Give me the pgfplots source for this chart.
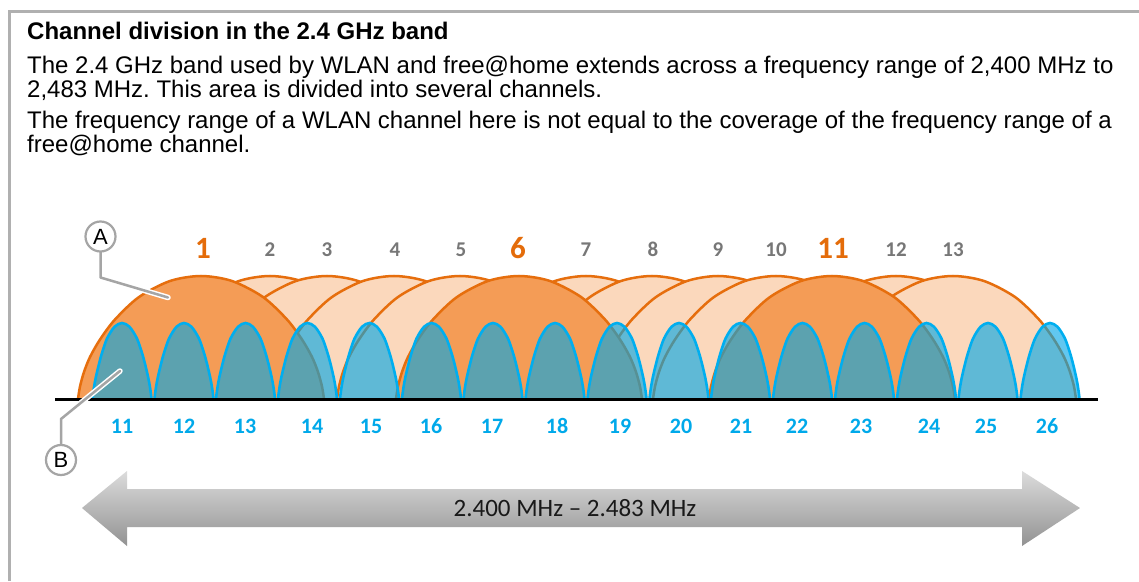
\documentclass[border=0pt]{standalone}
\usepackage{fontspec}
\setmainfont{Liberation Sans}
\newfontfamily\calibri{Carlito}
\usepackage{pgfplots}
\pgfplotsset{compat=1.18}
\usepackage{pgfplotstable}
\frenchspacing
\definecolor{peach}{HTML}{FBD8BC}
\definecolor{darkor}{HTML}{F49C56}
\definecolor{orline}{HTML}{E66E0D}
\definecolor{bluefill}{HTML}{00A6E7}
\definecolor{cyanline}{HTML}{00AEEF}
\definecolor{bluelab}{HTML}{00A9EA}
\definecolor{graylab}{HTML}{777777}
\definecolor{orlab}{HTML}{E46C0A}
\definecolor{framegray}{HTML}{B0B0B0}
\definecolor{leadgray}{HTML}{A5A5A5}
\definecolor{arrtop}{HTML}{DCDCDC}
\definecolor{arrbot}{HTML}{929292}

% WLAN channels 1-13: x positions (px) of each arc, common height column h
\pgfplotstableread{
h a1 a2 a3 a4 a5 a6 a7 a8 a9 a10 a11 a12 a13
0 78 147 204 271 337 396 463 529 595 653 709 773 830
12.5 80 149 206 273 339 398 465 531 597 655 711 775 832
27 84 153 210 277 343 402 469 535 601 659 715 779 836
42 90 159 216 283 349 408 475 541 607 665 721 785 842
59.5 100 169 226 293 359 418 485 551 617 675 731 795 852
79.5 115 184 241 308 374 433 500 566 632 690 746 810 867
102 139 208 265 332 398 457 524 590 656 714 770 834 891
118 170 239 296 363 429 488 555 621 687 745 801 865 922
123 201 270 327 394 460 519 586 652 718 776 832 896 953
118 232 301 358 425 491 550 617 683 749 807 863 927 984
102 263 332 389 456 522 581 648 714 780 838 894 958 1015
79.5 287 356 413 480 546 605 672 738 804 862 918 982 1039
59.5 302 371 428 495 561 620 687 753 819 877 933 997 1054
42 312 381 438 505 571 630 697 763 829 887 943 1007 1064
27 318 387 444 511 577 636 703 769 835 893 949 1013 1070
12.5 322 391 448 515 581 640 707 773 839 897 953 1017 1074
0 324 393 450 517 583 642 709 775 841 899 955 1019 1076
}\wlan

% free@home channels 11-26
\pgfplotstableread{
h b11 b12 b13 b14 b15 b16 b17 b18 b19 b20 b21 b22 b23 b24 b25 b26
0 92.5 154.5 216 278 340 402 463.5 525.5 587.5 649.5 711 773 835 897 958.5 1020.5
4.6 93 155 216.5 278.5 340.5 402.5 464 526 588 650 711.5 773.5 835.5 897.5 959 1021
11.8 94 156 217.5 279.5 341.5 403.5 465 527 589 651 712.5 774.5 836.5 898.5 960 1022
20.1 95.5 157.5 219 281 343 405 466.5 528.5 590.5 652.5 714 776 838 900 961.5 1023.5
31.1 98 160 221.5 283.5 345.5 407.5 469 531 593 655 716.5 778.5 840.5 902.5 964 1026
44.4 101.5 163.5 225 287 349 411 472.5 534.5 596.5 658.5 720 782 844 906 967.5 1029.5
60.4 107 169 230.5 292.5 354.5 416.5 478 540 602 664 725.5 787.5 849.5 911.5 973 1035
72.2 114.5 176.5 238 300 362 424 485.5 547.5 609.5 671.5 733 795 857 919 980.5 1042.5
76 122 184 245.5 307.5 369.5 431.5 493 555 617 679 740.5 802.5 864.5 926.5 988 1050
72.2 129.5 191.5 253 315 377 439 500.5 562.5 624.5 686.5 748 810 872 934 995.5 1057.5
60.4 137 199 260.5 322.5 384.5 446.5 508 570 632 694 755.5 817.5 879.5 941.5 1003 1065
44.4 142.5 204.5 266 328 390 452 513.5 575.5 637.5 699.5 761 823 885 947 1008.5 1070.5
31.1 146 208 269.5 331.5 393.5 455.5 517 579 641 703 764.5 826.5 888.5 950.5 1012 1074
20.1 148.5 210.5 272 334 396 458 519.5 581.5 643.5 705.5 767 829 891 953 1014.5 1076.5
11.8 150 212 273.5 335.5 397.5 459.5 521 583 645 707 768.5 830.5 892.5 954.5 1016 1078
4.6 151 213 274.5 336.5 398.5 460.5 522 584 646 708 769.5 831.5 893.5 955.5 1017 1079
0 151.5 213.5 275 337 399 461 522.5 584.5 646.5 708.5 770 832 894 956 1017.5 1079.5
}\fah

\begin{document}
\begin{tikzpicture}[x=1pt,y=1pt]
\useasboundingbox (0,0) rectangle (1139,581);
\fill[white] (0,0) rectangle (1139,581);
% frame
\draw[framegray, line width=3pt] (9.5,0) -- (9.5,569) -- (1139,569);
% text
\node[anchor=base west, inner sep=0] at (27,541) {\fontsize{24}{24}\selectfont\bfseries Channel division in the 2.4 GHz band};
\node[anchor=base west, inner sep=0] at (27,507.5) {\fontsize{24}{24}\selectfont The 2.4 GHz band used by WLAN and free@home extends across a frequency range of 2,400 MHz to};
\node[anchor=base west, inner sep=0] at (27,483.5) {\fontsize{24}{24}\selectfont 2,483 MHz. This area is divided into several channels.};
\node[anchor=base west, inner sep=0] at (27,452.5) {\fontsize{24}{24}\selectfont The frequency range of a WLAN channel here is not equal to the coverage of the frequency range of a};
\node[anchor=base west, inner sep=0] at (27,428.5) {\fontsize{24}{24}\selectfont free@home channel.};

% arrow
\shade[top color=arrtop, bottom color=arrbot] (82,73) -- (127,110) -- (127,92) -- (1022,92) -- (1022,110) -- (1080,73) -- (1022,35) -- (1022,54) -- (127,54) -- (127,35) -- cycle;
\node[anchor=base, inner sep=0, text=black!90] at (575,65) {\calibri\fontsize{25}{25}\selectfont 2.400 MHz – 2.483 MHz};

\begin{axis}[at={(0,182)}, anchor=south west, x=1pt, y=1pt,
  xmin=0, xmax=1139, ymin=0, ymax=130, hide axis, clip=false,
  lightarc/.style={smooth, no markers, draw=orline, line width=2.5pt, fill=peach},
  darkarc/.style={smooth, no markers, draw=orline, line width=2.5pt, fill=darkor},
  hump/.style={smooth, no markers, draw=cyanline, line width=2.6pt, fill=bluefill, fill opacity=0.62}]
\addplot[lightarc] table[x=a2, y=h] {\wlan};
\addplot[lightarc] table[x=a3, y=h] {\wlan};
\addplot[lightarc] table[x=a4, y=h] {\wlan};
\addplot[lightarc] table[x=a5, y=h] {\wlan};
\addplot[lightarc] table[x=a7, y=h] {\wlan};
\addplot[lightarc] table[x=a8, y=h] {\wlan};
\addplot[lightarc] table[x=a9, y=h] {\wlan};
\addplot[lightarc] table[x=a10, y=h] {\wlan};
\addplot[lightarc] table[x=a12, y=h] {\wlan};
\addplot[lightarc] table[x=a13, y=h] {\wlan};
\addplot[darkarc] table[x=a1, y=h] {\wlan};
\addplot[darkarc] table[x=a6, y=h] {\wlan};
\addplot[darkarc] table[x=a11, y=h] {\wlan};
\addplot[hump] table[x=b11, y=h] {\fah};
\addplot[hump] table[x=b12, y=h] {\fah};
\addplot[hump] table[x=b13, y=h] {\fah};
\addplot[hump] table[x=b14, y=h] {\fah};
\addplot[hump] table[x=b15, y=h] {\fah};
\addplot[hump] table[x=b16, y=h] {\fah};
\addplot[hump] table[x=b17, y=h] {\fah};
\addplot[hump] table[x=b18, y=h] {\fah};
\addplot[hump] table[x=b19, y=h] {\fah};
\addplot[hump] table[x=b20, y=h] {\fah};
\addplot[hump] table[x=b21, y=h] {\fah};
\addplot[hump] table[x=b22, y=h] {\fah};
\addplot[hump] table[x=b23, y=h] {\fah};
\addplot[hump] table[x=b24, y=h] {\fah};
\addplot[hump] table[x=b25, y=h] {\fah};
\addplot[hump] table[x=b26, y=h] {\fah};
\addplot[black, line width=3pt, no markers] coordinates {(55,0) (1098,0)};
\end{axis}

% WLAN channel numbers
\begin{scope}[every node/.style={anchor=base, inner sep=0}]
\node[text=orlab] at (203,322) {\calibri\bfseries\fontsize{31}{31}\selectfont 1};
\node[text=graylab] at (270,324) {\calibri\bfseries\fontsize{21}{21}\selectfont 2};
\node[text=graylab] at (327,324) {\calibri\bfseries\fontsize{21}{21}\selectfont 3};
\node[text=graylab] at (395,324) {\calibri\bfseries\fontsize{21}{21}\selectfont 4};
\node[text=graylab] at (461,324) {\calibri\bfseries\fontsize{21}{21}\selectfont 5};
\node[text=orlab] at (518,322) {\calibri\bfseries\fontsize{31}{31}\selectfont 6};
\node[text=graylab] at (586,324) {\calibri\bfseries\fontsize{21}{21}\selectfont 7};
\node[text=graylab] at (653,324) {\calibri\bfseries\fontsize{21}{21}\selectfont 8};
\node[text=graylab] at (718,324) {\calibri\bfseries\fontsize{21}{21}\selectfont 9};
\node[text=graylab] at (776,324) {\calibri\bfseries\fontsize{21}{21}\selectfont 10};
\node[text=orlab] at (833,322) {\calibri\bfseries\fontsize{31}{31}\selectfont 11};
\node[text=graylab] at (896,324) {\calibri\bfseries\fontsize{21}{21}\selectfont 12};
\node[text=graylab] at (953,324) {\calibri\bfseries\fontsize{21}{21}\selectfont 13};
% free@home channel numbers
\foreach \n/\xx in {11/122,12/184,13/245,14/312,15/371,16/431,17/492,18/557,19/620,20/681,21/741,22/797,23/861,24/929,25/986,26/1047}
  \node[text=bluelab] at (\xx,148) {\calibri\bfseries\fontsize{22}{22}\selectfont \n};
\end{scope}

% leaders
\draw[white, line width=5.5pt, line cap=round, line join=round] (100.5,329) -- (100.5,303.5) -- (168,283.5);
\draw[leadgray, line width=2.5pt, line cap=round, line join=round] (100.5,329) -- (100.5,303.5) -- (168,283.5);
\draw[white, line width=5.5pt, line cap=round, line join=round] (61,135) -- (61,162) -- (120,210);
\draw[leadgray, line width=2.5pt, line cap=round, line join=round] (61,135) -- (61,162) -- (120,210);
\draw[leadgray, line width=2.2pt, fill=white] (100.5,344.5) circle (15);
\node[inner sep=0] at (100.5,344.5) {\fontsize{22}{22}\selectfont A};
\draw[leadgray, line width=2.2pt, fill=white] (61,121) circle (15);
\node[inner sep=0] at (61,121) {\fontsize{22}{22}\selectfont B};
\end{tikzpicture}
\end{document}
